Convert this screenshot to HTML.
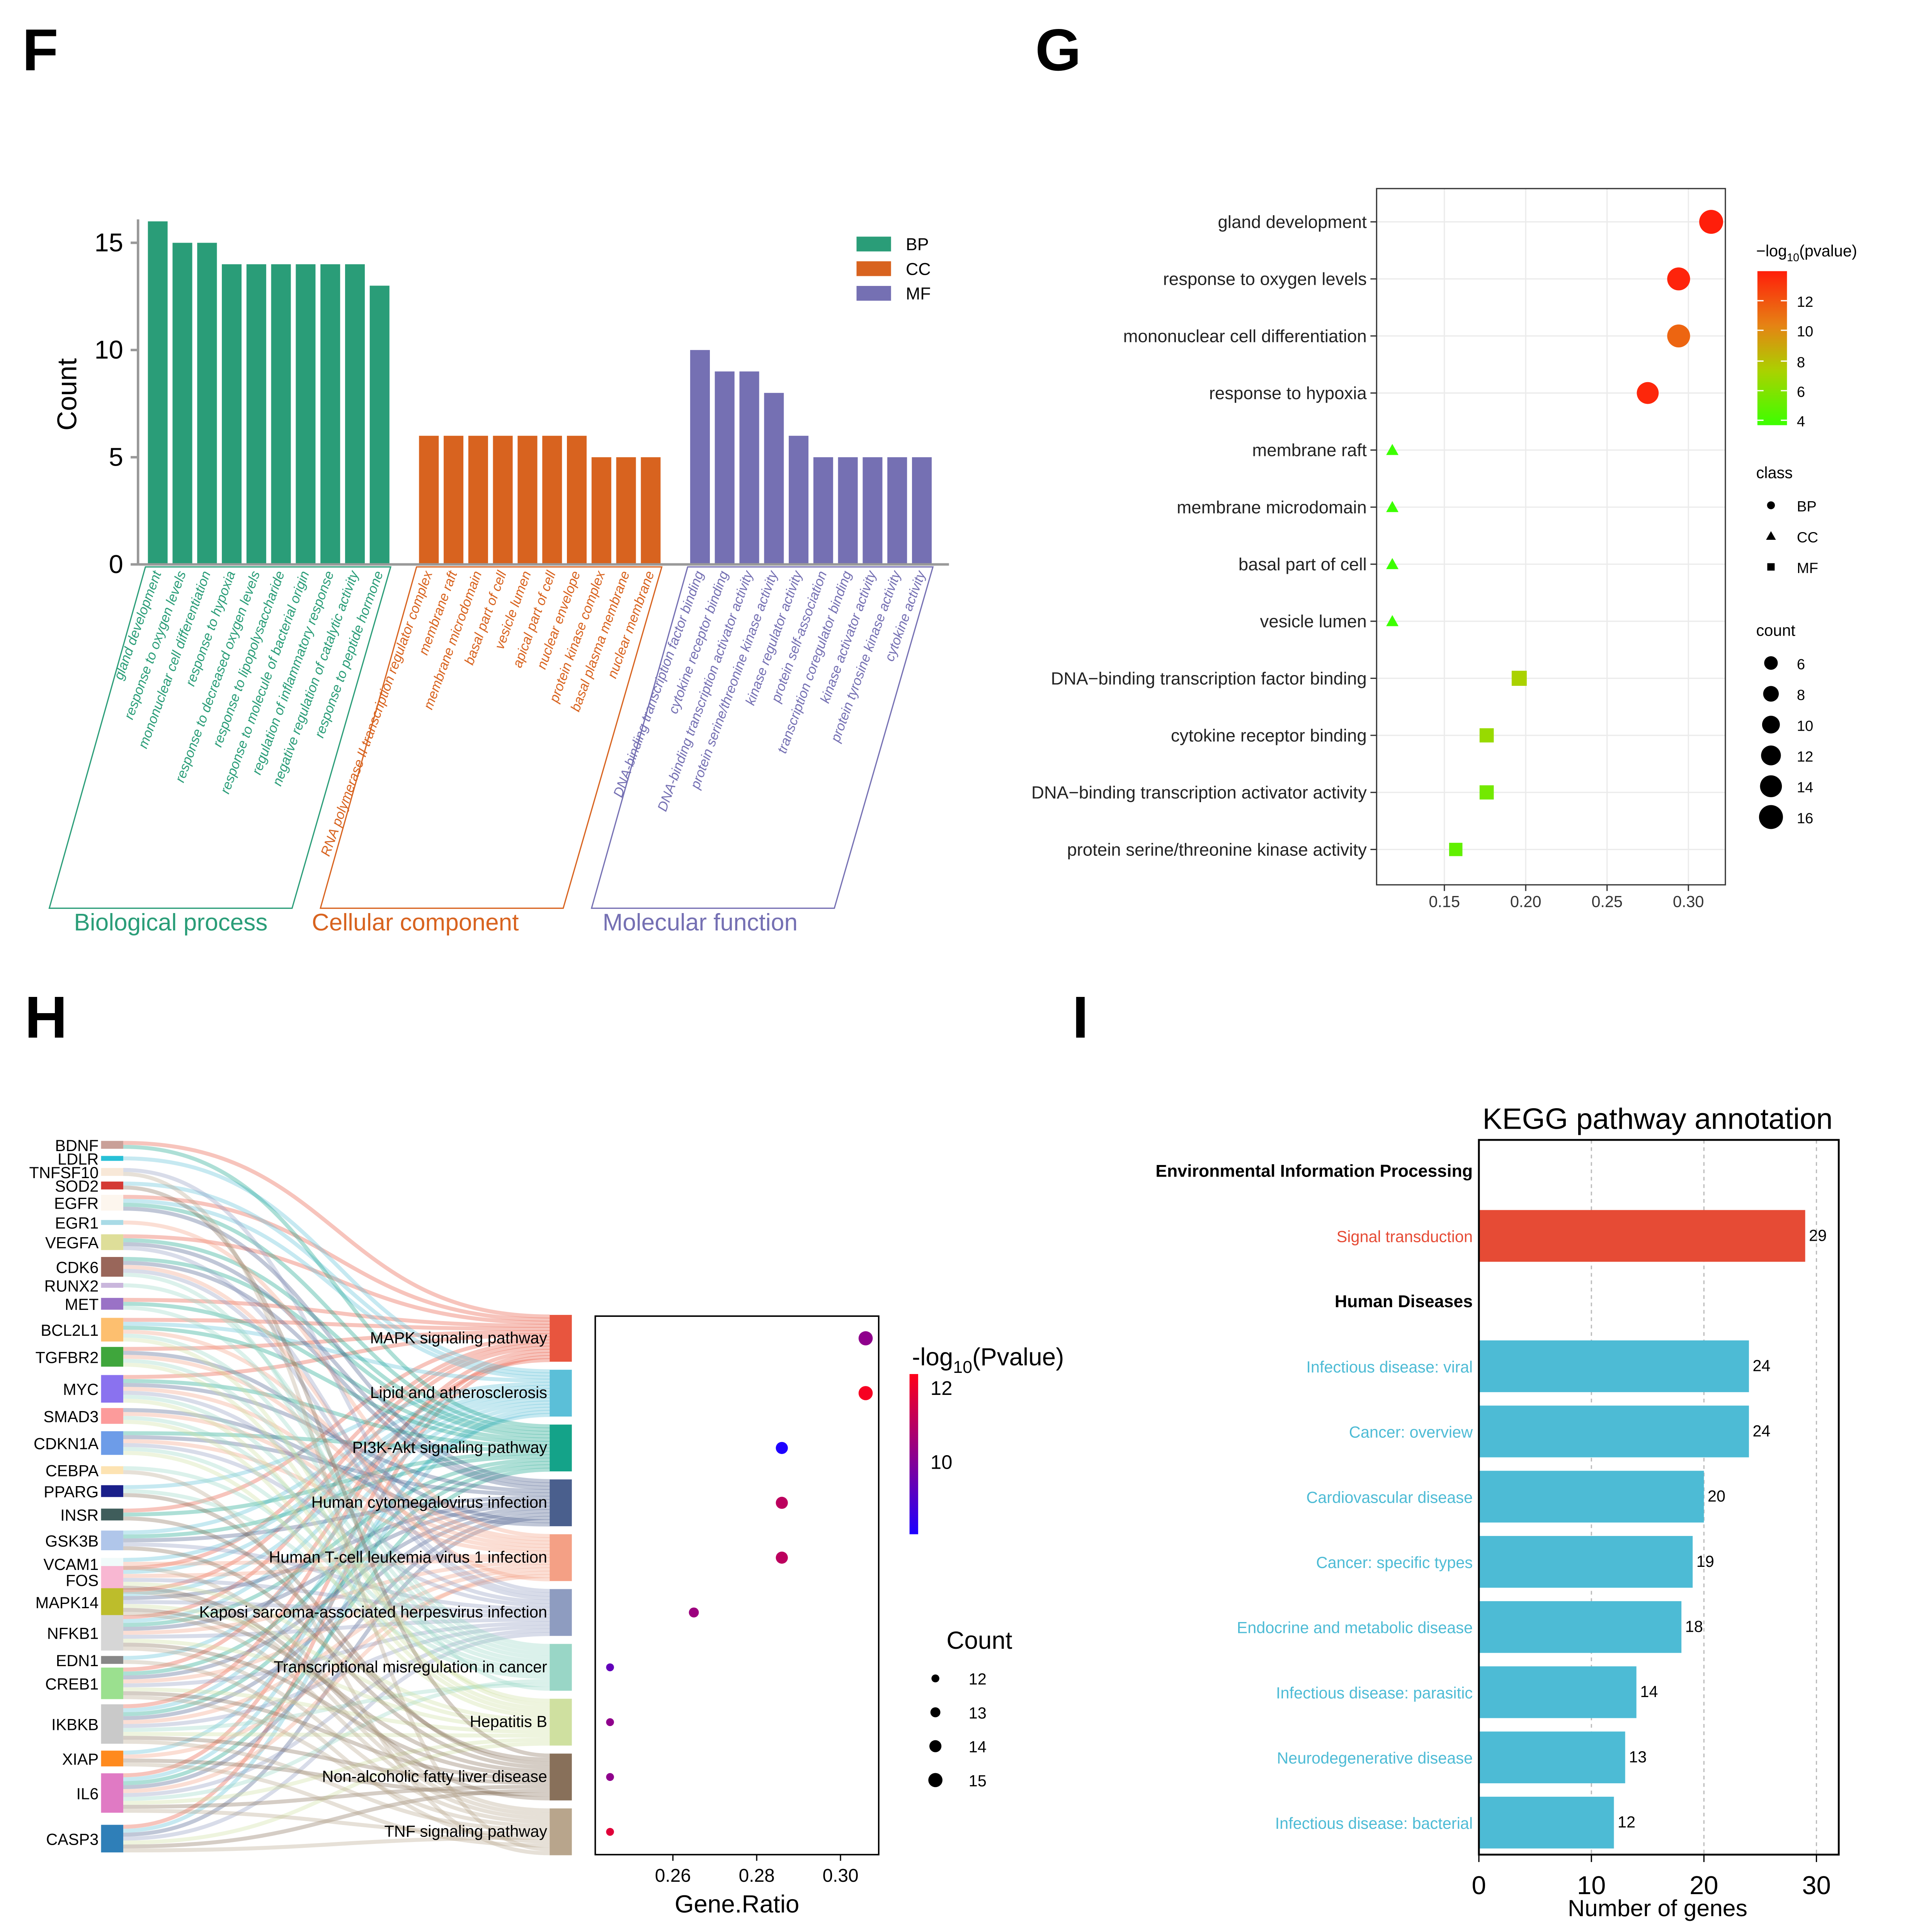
<!DOCTYPE html>
<html><head><meta charset="utf-8">
<style>html,body{margin:0;padding:0;background:#fff;width:4940px;height:5092px;overflow:hidden}svg{display:block}text{font-family:"Liberation Sans",Arial,sans-serif}</style>
</head><body>
<svg id="s" xmlns="http://www.w3.org/2000/svg" width="4940" height="5092" viewBox="0 0 1549 1596.6">
<rect width="1549" height="1596.6" fill="#fff"/>
<g id="F"></g>
<g id="G"></g>
<g id="H"></g>
<g id="I"></g>
</svg>
<script>
// ---------- Panel F data ----------
const fBPTerms=["gland development","response to oxygen levels","mononuclear cell differentiation","response to hypoxia","response to decreased oxygen levels","response to lipopolysaccharide","response to molecule of bacterial origin","regulation of inflammatory response","negative regulation of catalytic activity","response to peptide hormone"];
const fBPCounts=[16,15,15,14,14,14,14,14,14,13];
const fCCTerms=["RNA polymerase II transcription regulator complex","membrane raft","membrane microdomain","basal part of cell","vesicle lumen","apical part of cell","nuclear envelope","protein kinase complex","basal plasma membrane","nuclear membrane"];
const fCCCounts=[6,6,6,6,6,6,6,5,5,5];
const fMFTerms=["DNA-binding transcription factor binding","cytokine receptor binding","DNA-binding transcription activator activity","protein serine/threonine kinase activity","kinase regulator activity","protein self-association","transcription coregulator binding","kinase activator activity","protein tyrosine kinase activity","cytokine activity"];
const fMFCounts=[10,9,9,8,6,5,5,5,5,5];
const fTicks=[0,5,10,15];
// ---------- Panel G data ----------
const gTerms=["gland development","response to oxygen levels","mononuclear cell differentiation","response to hypoxia","membrane raft","membrane microdomain","basal part of cell","vesicle lumen","DNA−binding transcription factor binding","cytokine receptor binding","DNA−binding transcription activator activity","protein serine/threonine kinase activity"];
const gRatio=[0.314,0.294,0.294,0.275,0.118,0.118,0.118,0.118,0.196,0.176,0.176,0.157];
const gPval=[13.5,13.3,11,13.2,4,4,4,4,7,6.5,5.5,5];
const gCount=[16,15,15,14,6,6,6,6,10,9,9,8];
const gClass=["BP","BP","BP","BP","CC","CC","CC","CC","MF","MF","MF","MF"];
const gXTicks=[0.15,0.20,0.25,0.30];
// ---------- Panel H data ----------
const hGenes=["BDNF","LDLR","TNFSF10","SOD2","EGFR","EGR1","VEGFA","CDK6","RUNX2","MET","BCL2L1","TGFBR2","MYC","SMAD3","CDKN1A","CEBPA","PPARG","INSR","GSK3B","VCAM1","FOS","MAPK14","NFKB1","EDN1","CREB1","IKBKB","XIAP","IL6","CASP3"];
const hPaths=["MAPK signaling pathway","Lipid and atherosclerosis","PI3K-Akt signaling pathway","Human cytomegalovirus infection","Human T-cell leukemia virus 1 infection","Kaposi sarcoma-associated herpesvirus infection","Transcriptional misregulation in cancer","Hepatitis B","Non-alcoholic fatty liver disease","TNF signaling pathway"];
const hRatio=[0.306,0.306,0.286,0.286,0.286,0.265,0.245,0.245,0.245,0.245];
const hPval=[10.5,12.8,8,11.5,11.5,10.8,9.5,10.5,10.5,12.3];
const hCount=[15,15,14,14,14,13,12,12,12,12];
const hLinks=[
["BDNF","EGFR","VEGFA","MET","BCL2L1","TGFBR2","MYC","INSR","FOS","MAPK14","NFKB1","IKBKB","IL6","CASP3","CREB1"],
["LDLR","SOD2","EGFR","BCL2L1","PPARG","GSK3B","VCAM1","FOS","MAPK14","NFKB1","EDN1","IKBKB","IL6","CASP3","XIAP"],
["BDNF","EGFR","VEGFA","CDK6","MET","BCL2L1","MYC","CDKN1A","INSR","GSK3B","NFKB1","CREB1","IKBKB","IL6"],
["EGFR","VEGFA","CDK6","MYC","CDKN1A","GSK3B","MAPK14","NFKB1","CREB1","IKBKB","IL6","CASP3","TGFBR2","SMAD3"],
["EGR1","BCL2L1","TGFBR2","MYC","SMAD3","CDKN1A","VCAM1","FOS","NFKB1","CREB1","IKBKB","IL6","XIAP","CDK6"],
["TNFSF10","VEGFA","CDK6","MYC","CDKN1A","GSK3B","FOS","MAPK14","NFKB1","CREB1","IKBKB","IL6","CASP3"],
["RUNX2","MET","BCL2L1","TGFBR2","MYC","SMAD3","CDKN1A","CEBPA","PPARG","IL6","IKBKB","CDK6"],
["TGFBR2","BCL2L1","MYC","SMAD3","CDKN1A","FOS","MAPK14","NFKB1","CREB1","IKBKB","IL6","CASP3"],
["SOD2","INSR","PPARG","GSK3B","MAPK14","NFKB1","CREB1","IKBKB","IL6","CASP3","XIAP","FOS"],
["VCAM1","FOS","MAPK14","NFKB1","CREB1","IKBKB","IL6","CASP3","EDN1","XIAP","TNFSF10","CEBPA"]];
const hXTicks=[0.26,0.28,0.30];
// ---------- Panel I data ----------
const iRows=["Environmental Information Processing","Signal transduction","Human Diseases","Infectious disease: viral","Cancer: overview","Cardiovascular disease","Cancer: specific types","Endocrine and metabolic disease","Infectious disease: parasitic","Neurodegenerative disease","Infectious disease: bacterial"];
const iValues=[null,29,null,24,24,20,19,18,14,13,12];
const iXTicks=[0,10,20,30];

const NS="http://www.w3.org/2000/svg";
function mk(parent,tag,attrs,txt){const e=document.createElementNS(NS,tag);for(const k in attrs)e.setAttribute(k,attrs[k]);if(txt!==undefined)e.textContent=txt;parent.appendChild(e);return e;}

// ================= F =================
(function(){
const g=document.getElementById('F');
const t=mk(g,'text',{x:18,y:57,'font-size':48,'font-weight':'bold'},'F');

const y0=458, per=17.4; const ys=v=>y0-v*per;
const ax=mk(g,'line',{x1:112,y1:178,x2:112,y2:y0,stroke:'#999','stroke-width':2});

fTicks.forEach(v=>{mk(g,'line',{x1:106,x2:112,y1:ys(v),y2:ys(v),stroke:'#999','stroke-width':2});
 const tl=mk(g,'text',{x:100,y:ys(v)+7,'font-size':21,'text-anchor':'end'},v);
 });
const yt=mk(g,'text',{x:62,y:320,'font-size':22,'text-anchor':'middle',transform:'rotate(-90 62 320)'},'Count');

const groups=[[fBPTerms,fBPCounts,'#2a9d78',120,'BP','Biological process',40,60],[fCCTerms,fCCCounts,'#d8631f',340,'CC','Cellular component',260,253],[fMFTerms,fMFCounts,'#7570b3',560,'MF','Molecular function',480,489]];
groups.forEach(([terms,cnts,col,x0,code,name,bx,lx0],gi)=>{
 cnts.forEach((c,i)=>{const x=x0+i*20;
  const b=mk(g,'rect',{x:x,y:ys(c),width:16,height:c*per,fill:col});
  
  const lx=x+11, ly=465;
  const tl=mk(g,'text',{x:lx,y:ly,'font-size':11,'font-style':'italic',fill:col,'text-anchor':'end',transform:`rotate(-70 ${lx} ${ly})`},terms[i]);
  });
 const p=mk(g,'polygon',{points:`${bx+78},460 ${bx+277},460 ${bx+197},737 ${bx},737`,fill:'none',stroke:col,'stroke-width':1});
 
 const gl=mk(g,'text',{x:lx0,y:755,'font-size':19.5,fill:col},name);
 
 const lr=mk(g,'rect',{x:695,y:192+gi*20,width:28,height:12,fill:col});
 
 const lt=mk(g,'text',{x:735,y:203+gi*20,'font-size':14},code);
 
});
mk(g,'line',{x1:112,y1:y0,x2:770,y2:y0,stroke:'#999','stroke-width':2});
})();

// ================= G =================
function gColor(v){
 const stops=[[4,[60,255,0]],[7,[170,210,0]],[10,[230,130,20]],[13.5,[255,30,10]]];
 if(v<=stops[0][0])return `rgb(${stops[0][1]})`;
 for(let i=1;i<stops.length;i++){if(v<=stops[i][0]){const f=(v-stops[i-1][0])/(stops[i][0]-stops[i-1][0]);const a=stops[i-1][1],b=stops[i][1];return `rgb(${a.map((c,j)=>Math.round(c+(b[j]-c)*f)).join(',')})`;}}
 return `rgb(${stops[3][1]})`;}
(function(){
const g=document.getElementById('G');
const t=mk(g,'text',{x:840,y:57,'font-size':48,'font-weight':'bold'},'G');

const L=1117,R=1400,T=153,B=718;
const xs=v=>1172+(v-0.15)*1320;
const ry=i=>180+i*46.3;
gXTicks.forEach(v=>{mk(g,'line',{x1:xs(v),x2:xs(v),y1:T,y2:B,stroke:'#ebebeb','stroke-width':1});
 mk(g,'line',{x1:xs(v),x2:xs(v),y1:B,y2:B+5,stroke:'#333'});
 const tl=mk(g,'text',{x:xs(v),y:B+18,'font-size':13,'text-anchor':'middle',fill:'#333'},v.toFixed(2));
 });
gTerms.forEach((n,i)=>{const y=ry(i);
 mk(g,'line',{x1:L,x2:R,y1:y,y2:y,stroke:'#ebebeb','stroke-width':1});
 mk(g,'line',{x1:L-5,x2:L,y1:y,y2:y,stroke:'#333'});
 const tl=mk(g,'text',{x:L-8,y:y+5,'font-size':14.3,'text-anchor':'end',fill:'#222'},n);
 
 const x=xs(gRatio[i]), c=gColor(gPval[i]), r=3+gCount[i]*0.42;
 let m;
 if(gClass[i]==='BP') m=mk(g,'circle',{cx:x,cy:y,r:r,fill:c});
 else if(gClass[i]==='CC') m=mk(g,'polygon',{points:`${x},${y-5} ${x+5},${y+4} ${x-5},${y+4}`,fill:c});
 else m=mk(g,'rect',{x:x-r*0.85,y:y-r*0.85,width:r*1.7,height:r*1.7,fill:c});
 });
const fr=mk(g,'rect',{x:L,y:T,width:R-L,height:B-T,fill:'none',stroke:'#333','stroke-width':1});

const lt=mk(g,'text',{x:1425,y:208,'font-size':13},'');
lt.innerHTML='−log<tspan font-size="9" dy="4">10</tspan><tspan dy="-4">(pvalue)</tspan>';

const defs=mk(g,'defs',{});const lg=mk(defs,'linearGradient',{id:'gg',x1:0,y1:1,x2:0,y2:0});
[[0,gColor(3.5)],[0.35,gColor(7)],[0.65,gColor(10)],[1,gColor(13.5)]].forEach(([o,c])=>mk(lg,'stop',{offset:o,'stop-color':c}));
const cb=mk(g,'rect',{x:1426,y:220,width:24,height:125,fill:'url(#gg)'});

[[12,244],[10,268],[8,293],[6,317],[4,341]].forEach(([v,y])=>{mk(g,'line',{x1:1426,x2:1431,y1:y,y2:y,stroke:'#fff'});mk(g,'line',{x1:1445,x2:1450,y1:y,y2:y,stroke:'#fff'});
 const e=mk(g,'text',{x:1458,y:y+5,'font-size':12},v);});
const ct=mk(g,'text',{x:1425,y:388,'font-size':13},'class');
['BP','CC','MF'].forEach((c,i)=>{const y=410+i*25;
 if(i===0)mk(g,'circle',{cx:1437,cy:y,r:3.2,fill:'#000'});
 else if(i===1)mk(g,'polygon',{points:`1437,${y-4} 1441,${y+3} 1433,${y+3}`,fill:'#000'});
 else mk(g,'rect',{x:1434,y:y-3,width:6,height:6,fill:'#000'});
 const e=mk(g,'text',{x:1458,y:y+5,'font-size':12},c);});
const st=mk(g,'text',{x:1425,y:516,'font-size':13},'count');
[6,8,10,12,14,16].forEach((v,i)=>{const y=538+i*25;mk(g,'circle',{cx:1437,cy:y,r:3+v*0.42,fill:'#000'});
 const e=mk(g,'text',{x:1458,y:y+5,'font-size':12},v);});
})();

// ================= H =================
function hColor(v){const f=Math.max(0,Math.min(1,(v-8)/5));return `rgb(${Math.round(30+225*f)},0,${Math.round(255-230*f)})`;}
(function(){
const g=document.getElementById('H');
const t=mk(g,'text',{x:20,y:842,'font-size':48,'font-weight':'bold'},'H');

const geneY=[929,940,951,962,976,992,1008,1028,1043,1058,1079,1101,1127,1149,1171,1193,1210,1229,1250,1269,1282,1300,1325,1347,1366,1399,1427,1455,1492];
const geneCol=["#c9a098","#27c0d6","#f8e8d8","#d43a35","#fdf6ee","#a9dbe6","#dede99","#99665a","#c9b6dc","#9a72c6","#fdbf6f","#3fa63c","#8a72ef","#fc9b9b","#6d9ce8","#fde3b2","#1a1f8a","#3f5d5b","#b0c6ea","#f0fafa","#f8b7d2","#bdbd2b","#d6d6d6","#888","#9be08f","#c9c9c9","#ff8a1e","#e07ac4","#2f7fb8"];
const pathCol=["#e8553e","#5bbfd8","#14a389","#4a5f8d","#f4a085","#8e9cc0","#99d6c6","#cfe0a0","#88705a","#b8a58c"];
const pathY=i=>1086+i*44.5;
const lk=3.2;
const gCnt={};hGenes.forEach(n=>gCnt[n]=0);hLinks.forEach(a=>a.forEach(n=>gCnt[n]++));
const gUsed={};hGenes.forEach(n=>gUsed[n]=0);
const flows=mk(g,'g',{});
hLinks.forEach((arr,pi)=>{
 const py0=pathY(pi)-19, pstep=38/arr.length;
 arr.forEach((n,j)=>{const gi=hGenes.indexOf(n);
  const h=Math.max(4,gCnt[n]*lk);const gy=geneY[gi]-h/2+(gUsed[n]+0.5)*h/gCnt[n];gUsed[n]++;
  const py=py0+(j+0.5)*pstep;
  const p=mk(flows,'path',{d:`M100,${gy} C273,${gy} 273,${py} 446,${py}`,fill:'none',stroke:pathCol[pi],'stroke-width':lk,'stroke-opacity':0.35});
  });});
hGenes.forEach((n,i)=>{const h=Math.max(4,gCnt[n]*lk);
 const r=mk(g,'rect',{x:82,y:geneY[i]-h/2,width:18,height:h,fill:geneCol[i]});
 
 const tl=mk(g,'text',{x:80,y:geneY[i]+5,'font-size':13,'text-anchor':'end'},n);
 });
hPaths.forEach((n,i)=>{const y=pathY(i);
 const r=mk(g,'rect',{x:446,y:y-19,width:18,height:38,fill:pathCol[i]});
 
 const tl=mk(g,'text',{x:444,y:y+4,'font-size':13,'text-anchor':'end'},n);
 });
const L=483,R=713,T=1068,B=1505;const xs=v=>546+(v-0.26)*3400;
const fr=mk(g,'rect',{x:L,y:T,width:R-L,height:B-T,fill:'none',stroke:'#000','stroke-width':1.2});

hXTicks.forEach(v=>{mk(g,'line',{x1:xs(v),x2:xs(v),y1:B,y2:B+5,stroke:'#000'});
 const tl=mk(g,'text',{x:xs(v),y:B+22,'font-size':15,'text-anchor':'middle'},v.toFixed(2));
 });
const xt=mk(g,'text',{x:598,y:1552,'font-size':20,'text-anchor':'middle'},'Gene.Ratio');

hRatio.forEach((v,i)=>{const c=mk(g,'circle',{cx:xs(v),cy:pathY(i),r:-7+hCount[i]*0.85,fill:hColor(hPval[i])});
 });
const lt=mk(g,'text',{x:740,y:1108,'font-size':20},'');lt.innerHTML='-log<tspan font-size="14" dy="6">10</tspan><tspan dy="-6">(Pvalue)</tspan>';

const defs=mk(g,'defs',{});const lg=mk(defs,'linearGradient',{id:'hg',x1:0,y1:1,x2:0,y2:0});
mk(lg,'stop',{offset:0,'stop-color':hColor(8)});mk(lg,'stop',{offset:0.5,'stop-color':hColor(10.5)});mk(lg,'stop',{offset:1,'stop-color':hColor(13)});
const cb=mk(g,'rect',{x:738,y:1115,width:7,height:130,fill:'url(#hg)'});
[[12,1132],[10,1192]].forEach(([v,y])=>{const e=mk(g,'text',{x:755,y:y,'font-size':16},v);});
const ct=mk(g,'text',{x:768,y:1338,'font-size':20},'Count');
[12,13,14,15].forEach((v,i)=>{const y=1362+i*27.5;mk(g,'circle',{cx:759,cy:y,r:-7+v*0.85,fill:'#000'});
 const e=mk(g,'text',{x:786,y:y+5,'font-size':13},v);});
})();

// ================= I =================
(function(){
const g=document.getElementById('I');
const t=mk(g,'text',{x:870,y:842,'font-size':48,'font-weight':'bold'},'I');

const tt=mk(g,'text',{x:1345,y:916,'font-size':24,'text-anchor':'middle'},'KEGG pathway annotation');

const L=1200,R=1492,T=925,B=1505;const xs=v=>L+v*9.13;const ry=i=>950+i*52.9;
iXTicks.forEach(v=>{if(v>0)mk(g,'line',{x1:xs(v),x2:xs(v),y1:T,y2:B,stroke:'#bbb','stroke-dasharray':'3,3'});
 mk(g,'line',{x1:xs(v),x2:xs(v),y1:B,y2:B+6,stroke:'#000'});
 const tl=mk(g,'text',{x:xs(v),y:B+32,'font-size':21,'text-anchor':'middle'},v);
 });
iRows.forEach((n,i)=>{const y=ry(i);const v=iValues[i];
 if(v===null){const h=mk(g,'text',{x:1195,y:y+5,'font-size':14,'font-weight':'bold','text-anchor':'end'},n);
  return;}
 const col=i===1?'#e64b35':'#4dbbd5';
 const b=mk(g,'rect',{x:L,y:y-21,width:xs(v)-L,height:42,fill:col});
 
 const tl=mk(g,'text',{x:1195,y:y+5,'font-size':13,fill:col,'text-anchor':'end'},n);
 
 const vl=mk(g,'text',{x:xs(v)+3,y:y+4,'font-size':13},v);
 });
const fr=mk(g,'rect',{x:L,y:T,width:R-L,height:B-T,fill:'none',stroke:'#000','stroke-width':1.5});

const xt=mk(g,'text',{x:1345,y:1555,'font-size':19,'text-anchor':'middle'},'Number of genes');

})();
</script>
</body></html>
